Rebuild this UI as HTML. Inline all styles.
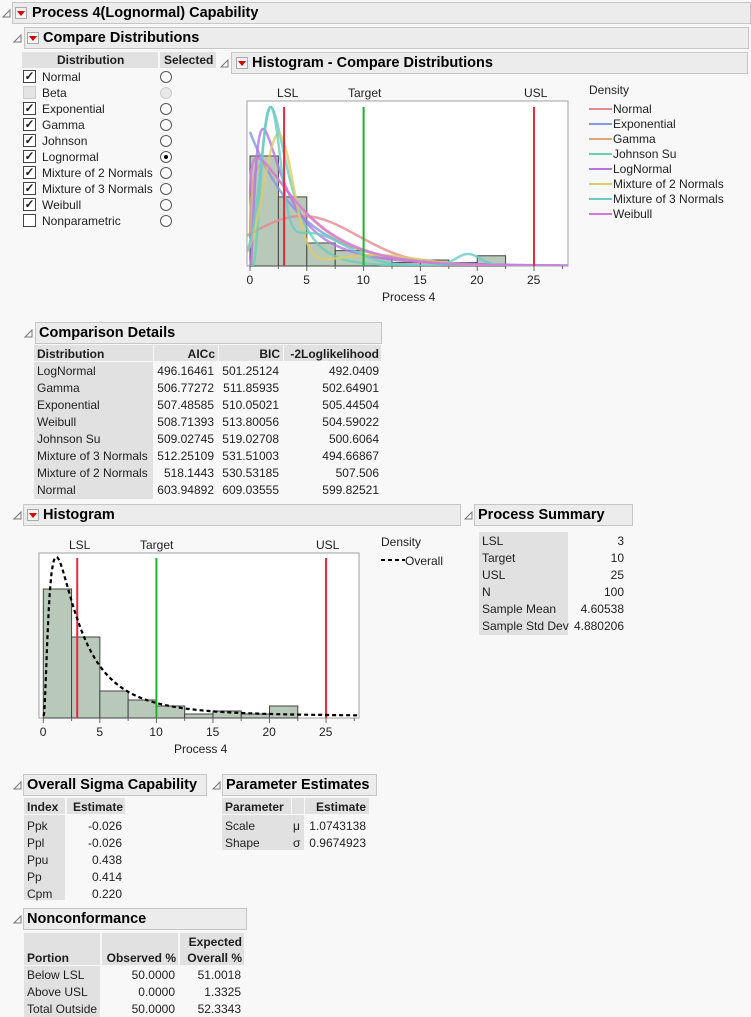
<!DOCTYPE html>
<html><head><meta charset="utf-8">
<style>
body{margin:0;background:#f8f8f8;width:751px;height:1017px;position:relative;overflow:hidden;font-family:"Liberation Sans",Arial,sans-serif;font-size:12px;color:#1e1e1e}
.a{position:absolute;white-space:nowrap}
.hd{position:absolute;background:#ececec;border:1px solid #c6c6c6;box-sizing:border-box;font-weight:bold;font-size:14.5px;color:#000}
.hd span{position:absolute;top:2px}
.g{position:absolute;background:#e1e1e1}
.mb{position:absolute;width:12px;height:12px;border:1px solid #aaa;background:#f4f4f4;box-sizing:border-box}
.mb:after{content:"";position:absolute;left:1px;top:3px;border-left:4px solid transparent;border-right:4px solid transparent;border-top:5px solid #d00}
.cb{position:absolute;width:13px;height:13px;border:1px solid #444;background:#fff;box-sizing:border-box;font-size:12px;line-height:11px;text-align:center;font-weight:bold}
.rd{position:absolute;width:12px;height:12px;border:1px solid #555;border-radius:50%;background:#fff;box-sizing:border-box}
.r{text-align:right}
</style></head><body>

<svg class="a" style="left:0;top:0" width="751" height="1017">
<g fill="none" stroke="#777" stroke-width="1">
<path d="M3 17 L10 10 L10 17 Z"/>
<path d="M14 42 L21 35 L21 42 Z"/>
<path d="M221 67 L228 60 L228 67 Z"/>
<path d="M25 337 L32 330 L32 337 Z"/>
<path d="M14 519 L21 512 L21 519 Z"/>
<path d="M465 519 L472 512 L472 519 Z"/>
<path d="M14 789 L21 782 L21 789 Z"/>
<path d="M213 789 L220 782 L220 789 Z"/>
<path d="M14 923 L21 916 L21 923 Z"/>
</g></svg>

<div class="hd" style="left:12px;top:2px;width:739px;height:22px"><span style="left:19px">Process 4(Lognormal) Capability</span></div>
<div class="mb" style="left:15px;top:7px"></div>
<div class="hd" style="left:24px;top:27px;width:725px;height:22px"><span style="left:18px">Compare Distributions</span></div>
<div class="mb" style="left:27px;top:32px"></div>

<div class="g" style="left:22px;top:52px;width:136px;height:16px"></div>
<div class="g" style="left:160px;top:52px;width:56px;height:16px"></div>
<div class="a" style="left:57px;top:53px;font-weight:bold">Distribution</div>
<div class="a" style="left:164px;top:53px;font-weight:bold">Selected</div>
<div id="dist"></div>

<div class="hd" style="left:231px;top:52px;width:517px;height:22px"><span style="left:20px">Histogram - Compare Distributions</span></div>
<div class="mb" style="left:236px;top:57px"></div>

<svg class="a" style="left:0;top:0" width="751" height="1017">
<rect x="247" y="101" width="321" height="165" fill="#fff" stroke="#a0a0a0"/>
<rect x="39" y="553" width="320" height="165" fill="#fff" stroke="#a0a0a0"/>
<g id="top"></g><g id="bot"></g>
</svg>

<div class="a" style="left:277px;top:86px">LSL</div>
<div class="a" style="left:348px;top:86px">Target</div>
<div class="a" style="left:524px;top:86px">USL</div>
<div id="tx1"></div>
<div class="a" style="left:382px;top:290px">Process 4</div>

<div class="a" style="left:589px;top:83px">Density</div>
<div id="leg"></div>

<div class="hd" style="left:35px;top:322px;width:347px;height:22px"><span style="left:3px">Comparison Details</span></div>
<div id="cmp"></div>

<div class="hd" style="left:23px;top:504px;width:438px;height:22px"><span style="left:19px">Histogram</span></div>
<div class="mb" style="left:27px;top:509px"></div>
<div class="a" style="left:69px;top:538px">LSL</div>
<div class="a" style="left:140px;top:538px">Target</div>
<div class="a" style="left:316px;top:538px">USL</div>
<div id="tx2"></div>
<div class="a" style="left:174px;top:742px">Process 4</div>
<div class="a" style="left:381px;top:535px">Density</div>
<svg class="a" style="left:380px;top:554px" width="26" height="10"><line x1="1" y1="6" x2="25" y2="6" stroke="#000" stroke-width="2" stroke-dasharray="4,3"/></svg>
<div class="a" style="left:405px;top:554px">Overall</div>

<div class="hd" style="left:474px;top:504px;width:159px;height:22px"><span style="left:3px">Process Summary</span></div>
<div class="g" style="left:479px;top:532px;width:89px;height:103px"></div>
<div id="ps"></div>

<div class="hd" style="left:23px;top:774px;width:184px;height:22px"><span style="left:3px">Overall Sigma Capability</span></div>
<div class="g" style="left:24px;top:798px;width:41px;height:16px"></div>
<div class="g" style="left:67px;top:798px;width:58px;height:16px"></div>
<div class="g" style="left:24px;top:815px;width:41px;height:85px"></div>
<div class="a" style="left:27px;top:800px;font-weight:bold">Index</div>
<div class="a" style="left:73px;top:800px;font-weight:bold">Estimate</div>
<div id="osc"></div>

<div class="hd" style="left:222px;top:774px;width:155px;height:22px"><span style="left:3px">Parameter Estimates</span></div>
<div class="g" style="left:222px;top:798px;width:69px;height:16px"></div>
<div class="g" style="left:292px;top:798px;width:12px;height:16px"></div>
<div class="g" style="left:305px;top:798px;width:64px;height:16px"></div>
<div class="g" style="left:222px;top:815px;width:82px;height:35px"></div>
<div class="a" style="left:225px;top:800px;font-weight:bold">Parameter</div>
<div class="a" style="left:316px;top:800px;font-weight:bold">Estimate</div>
<div class="a" style="left:225px;top:819px">Scale</div><div class="a" style="left:293px;top:819px">μ</div><div class="a r" style="left:300px;width:66px;top:819px">1.0743138</div>
<div class="a" style="left:225px;top:836px">Shape</div><div class="a" style="left:293px;top:836px">σ</div><div class="a r" style="left:300px;width:66px;top:836px">0.9674923</div>

<div class="hd" style="left:23px;top:908px;width:224px;height:22px"><span style="left:3px">Nonconformance</span></div>
<div class="g" style="left:24px;top:933px;width:76px;height:32px"></div>
<div class="g" style="left:102px;top:933px;width:76px;height:32px"></div>
<div class="g" style="left:180px;top:933px;width:64px;height:32px"></div>
<div class="g" style="left:24px;top:966px;width:76px;height:51px"></div>
<div class="a" style="left:27px;top:951px;font-weight:bold">Portion</div>
<div class="a r" style="left:100px;width:76px;top:951px;font-weight:bold">Observed %</div>
<div class="a r" style="left:170px;width:72px;top:935px;font-weight:bold">Expected</div>
<div class="a r" style="left:170px;width:72px;top:951px;font-weight:bold">Overall %</div>
<div id="nc"></div>

<script>
function add(id,h){document.getElementById(id).insertAdjacentHTML('beforeend',h);}
var d=[["Normal",1],["Beta",2],["Exponential",1],["Gamma",1],["Johnson",1],["Lognormal",1],["Mixture of 2 Normals",1],["Mixture of 3 Normals",1],["Weibull",1],["Nonparametric",0]];
d.forEach(function(r,i){var y=70+i*16;
 var cb=r[1]==2?'<div class="cb" style="left:23px;top:'+y+'px;border-color:#ccc;background:#e4e4e4"></div>':'<div class="cb" style="left:23px;top:'+y+'px">'+(r[1]?'✓':'')+'</div>';
 add('dist',cb+'<div class="a" style="left:42px;top:'+(y)+'px">'+r[0]+'</div>'+
 '<div class="rd" style="left:160px;top:'+(y+1)+'px;'+(r[1]==2?'border-color:#ccc;background:#e8e8e8':'')+'">'+(i==5?'<div style="position:absolute;left:3px;top:3px;width:4px;height:4px;border-radius:50%;background:#000"></div>':'')+'</div>');});
[0,5,10,15,20,25].forEach(function(v){add('tx1','<div class="a" style="left:'+(250+v*11.36-(v>=10?7:3.5))+'px;top:273px">'+v+'</div>');
 add('tx2','<div class="a" style="left:'+(43.3+v*11.31-(v>=10?7:3.5))+'px;top:725px">'+v+'</div>');});
var cols=[["Normal","#e68890"],["Exponential","#8199e4"],["Gamma","#e0a678"],["Johnson Su","#6cd0b0"],["LogNormal","#b474e4"],["Mixture of 2 Normals","#dccc6c"],["Mixture of 3 Normals","#6ccac8"],["Weibull","#d478e0"]];
cols.forEach(function(c,i){var y=102+i*15;add('leg','<div class="a" style="left:589px;top:'+(y+6)+'px;width:23px;height:2px;background:'+c[1]+'"></div><div class="a" style="left:613px;top:'+y+'px">'+c[0]+'</div>');});
add('cmp','<div class="g" style="left:34px;top:345px;width:119px;height:16px"></div><div class="g" style="left:154px;top:345px;width:64px;height:16px"></div><div class="g" style="left:219px;top:345px;width:64px;height:16px"></div><div class="g" style="left:284px;top:345px;width:97px;height:16px"></div><div class="g" style="left:34px;top:362px;width:119px;height:137px"></div>');
add('cmp','<div class="a" style="left:37px;top:347px;font-weight:bold">Distribution</div><div class="a r" style="left:154px;width:61px;top:347px;font-weight:bold">AICc</div><div class="a r" style="left:219px;width:61px;top:347px;font-weight:bold">BIC</div><div class="a r" style="left:284px;width:95px;top:347px;font-weight:bold">-2Loglikelihood</div>');
var cd=[["LogNormal","496.16461","501.25124","492.0409"],["Gamma","506.77272","511.85935","502.64901"],["Exponential","507.48585","510.05021","505.44504"],["Weibull","508.71393","513.80056","504.59022"],["Johnson Su","509.02745","519.02708","500.6064"],["Mixture of 3 Normals","512.25109","531.51003","494.66867"],["Mixture of 2 Normals","518.1443","530.53185","507.506"],["Normal","603.94892","609.03555","599.82521"]];
cd.forEach(function(r,i){var y=364+i*17;add('cmp','<div class="a" style="left:37px;top:'+y+'px">'+r[0]+'</div><div class="a r" style="left:150px;width:64px;top:'+y+'px">'+r[1]+'</div><div class="a r" style="left:215px;width:64px;top:'+y+'px">'+r[2]+'</div><div class="a r" style="left:284px;width:95px;top:'+y+'px">'+r[3]+'</div>');});
[["LSL","3"],["Target","10"],["USL","25"],["N","100"],["Sample Mean","4.60538"],["Sample Std Dev","4.880206"]].forEach(function(r,i){var y=534+i*17;add('ps','<div class="a" style="left:482px;top:'+y+'px">'+r[0]+'</div><div class="a r" style="left:560px;width:64px;top:'+y+'px">'+r[1]+'</div>');});
[["Ppk","-0.026"],["Ppl","-0.026"],["Ppu","0.438"],["Pp","0.414"],["Cpm","0.220"]].forEach(function(r,i){var y=819+i*17;add('osc','<div class="a" style="left:27px;top:'+y+'px">'+r[0]+'</div><div class="a r" style="left:67px;width:55px;top:'+y+'px">'+r[1]+'</div>');});
[["Below LSL","50.0000","51.0018"],["Above USL","0.0000","1.3325"],["Total Outside","50.0000","52.3343"]].forEach(function(r,i){var y=968+i*17;add('nc','<div class="a" style="left:27px;top:'+y+'px">'+r[0]+'</div><div class="a r" style="left:100px;width:75px;top:'+y+'px">'+r[1]+'</div><div class="a r" style="left:170px;width:71px;top:'+y+'px">'+r[2]+'</div>');});

function bars(X,Y,hs){var s='';for(var i=0;i<hs.length;i++){if(hs[i]<=0)continue;var x1=X(i*2.5),x2=X((i+1)*2.5);s+='<rect x="'+x1+'" y="'+(Y-hs[i])+'" width="'+(x2-x1)+'" height="'+hs[i]+'" fill="#b9c9b9" stroke="#444" stroke-width="1"/>';}return s;}
var X1=function(v){return 250+v*11.36},X2=function(v){return 43.3+v*11.31};
var hb=[129,81,27,18,12,4,7,4,12];
var ht=hb.map(function(h){return h*0.853});
function curve(f,peak,X,Y,x0){var xs=[],m=0;for(var x=x0;x<=28;x+=0.05){var v=f(x);xs.push([x,v]);if(v>m)m=v;}
 return xs.map(function(p,i){return (i?'L':'M')+X(p[0]).toFixed(1)+' '+(Y-p[1]/m*peak).toFixed(1)}).join(' ');}
function ln(mu,s){return function(x){return Math.exp(-Math.pow(Math.log(x)-mu,2)/(2*s*s))/x}}
function g(m,s){return function(x){return Math.exp(-(x-m)*(x-m)/(2*s*s))}}
var fs=[
 [function(x){return g(4.6,4.88)(x)},50,-0.3],
 [function(x){return Math.exp(-x/4.6)},134,0.0],
 [function(x){return Math.pow(x,0.3)*Math.exp(-x/3.5)},101,0.01],
 [ln(Math.log(2.6),0.6),159,0.05],
 [ln(1.0743,0.9675),137,0.02],
 [function(x){return 120*g(2.5,1.3)(x)+10*g(11,4)(x)},132,-0.3],
 [function(x){return 140*g(1.8,0.85)(x)+33*g(5.2,3.2)(x)+12*g(19.2,1.1)(x)},159,-0.3],
 [function(x){return Math.pow(x,0.12)*Math.exp(-Math.pow(x/4.7,1.12))},108,0.01]];
var s='<clipPath id="c1"><rect x="247" y="101" width="321" height="165"/></clipPath>';
s+=bars(X1,266,ht);
s+='<g clip-path="url(#c1)" fill="none" stroke-width="2.5" stroke-opacity="0.8">';
fs.forEach(function(f,i){s+='<path d="'+curve(f[0],f[1],X1,266,f[2])+'" stroke="'+cols[i][1]+'"/>';});
s+='</g>';
s+='<line x1="'+X1(3)+'" y1="107" x2="'+X1(3)+'" y2="266" stroke="#e8283c" stroke-width="2"/><line x1="'+X1(10)+'" y1="107" x2="'+X1(10)+'" y2="266" stroke="#1db32a" stroke-width="2"/><line x1="'+X1(25)+'" y1="107" x2="'+X1(25)+'" y2="266" stroke="#e8283c" stroke-width="2"/>';
for(var v=0;v<=27.5;v+=2.5){s+='<line x1="'+X1(v)+'" y1="266" x2="'+X1(v)+'" y2="'+(v%5==0?271:269)+'" stroke="#666"/>';}
document.getElementById('top').innerHTML=s;
s='<clipPath id="c2"><rect x="39" y="553" width="320" height="165"/></clipPath>';
s+=bars(X2,718,hb);
s+='<line x1="'+X2(3)+'" y1="558" x2="'+X2(3)+'" y2="718" stroke="#e8283c" stroke-width="2"/><line x1="'+X2(10)+'" y1="558" x2="'+X2(10)+'" y2="718" stroke="#1db32a" stroke-width="2"/><line x1="'+X2(25)+'" y1="558" x2="'+X2(25)+'" y2="718" stroke="#e8283c" stroke-width="2"/>';
s+='<path clip-path="url(#c2)" d="'+curve(ln(1.0743,0.9675),159,X2,716,0.02)+'" fill="none" stroke="#000" stroke-width="2.2" stroke-dasharray="4,3"/>';
for(var v=0;v<=27.5;v+=2.5){s+='<line x1="'+X2(v)+'" y1="718" x2="'+X2(v)+'" y2="'+(v%5==0?723:721)+'" stroke="#666"/>';}
document.getElementById('bot').innerHTML=s;
</script>
</body></html>
